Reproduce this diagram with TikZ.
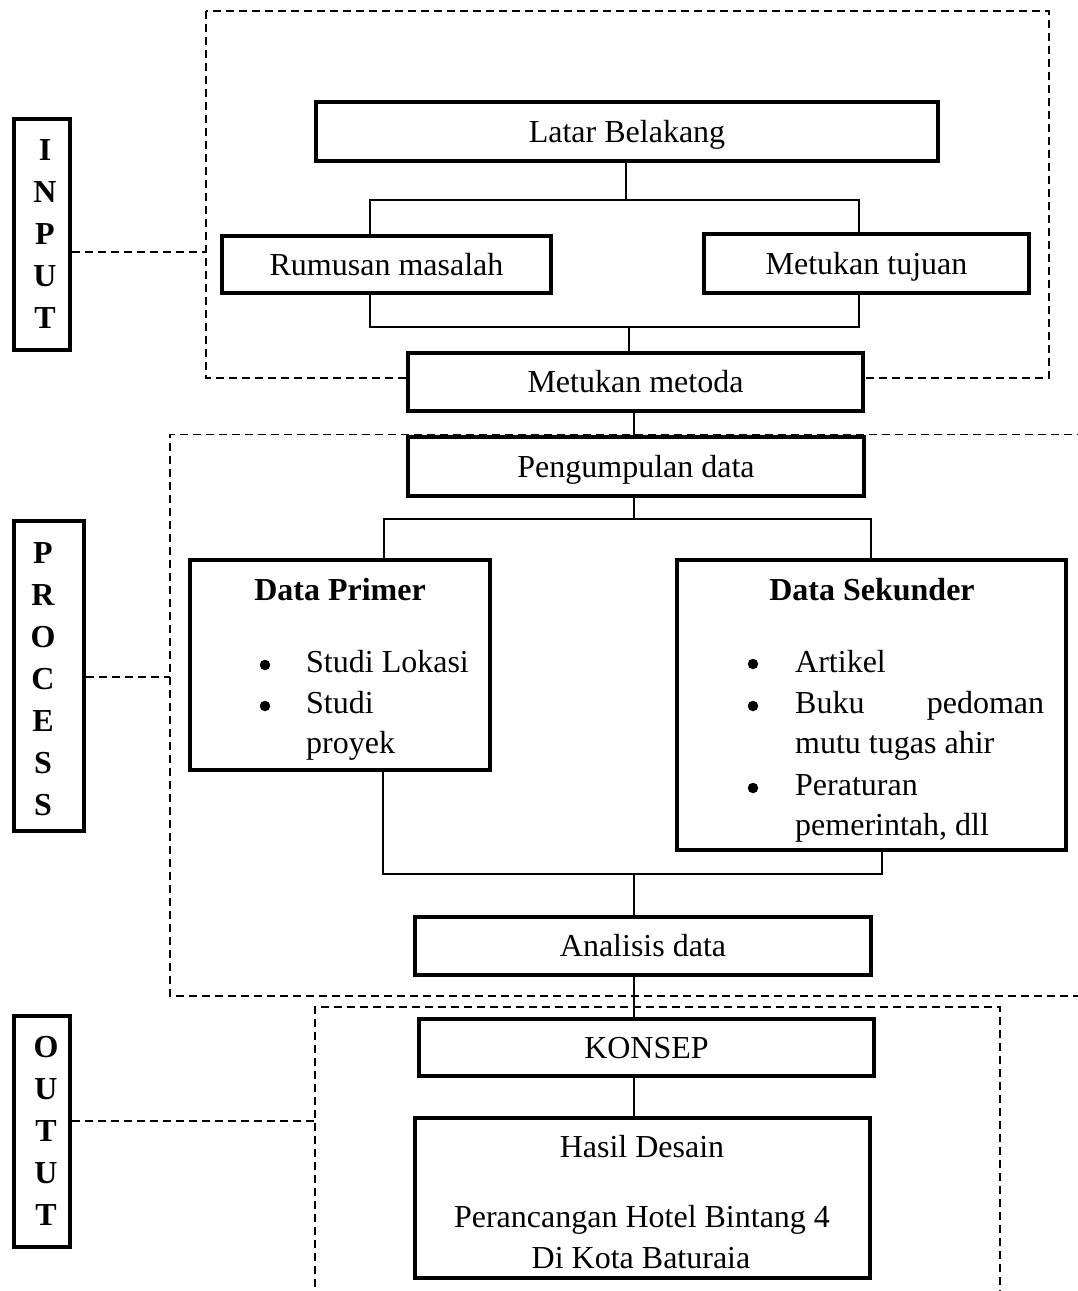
\documentclass[tikz,border=0pt]{standalone}
\usepackage{fontspec}
\setmainfont{Liberation Serif}
\usetikzlibrary{calc}
\begin{document}
\begin{tikzpicture}[x=1pt,y=-1pt, font=\fontsize{32}{41}\selectfont,
 box/.style={draw, line width=3.9pt, fill=white, inner sep=0pt, text height=21pt, text depth=0pt},
 conn/.style={line width=1.2pt},
 dsh/.style={line width=1.4pt, dash pattern=on 8pt off 5pt},
 txt/.style={inner sep=0pt},
 bul/.style={circle, fill=black, inner sep=0pt, minimum size=10.5pt},
 lbl/.style={inner sep=0pt, align=center, font=\fontsize{32}{42}\selectfont\bfseries}]
\useasboundingbox (0,0) rectangle (1078,1291);
\clip (0,0) rectangle (1078,1291);
% dashed frames
\draw[dsh] (206,11) rectangle (1049,378);
\draw[dsh] (1085,434.5) -- (170,434.5) -- (170,996) -- (1085,996);
\draw[dsh] (315,1300) -- (315,1007) -- (1000,1007) -- (1000,1300);
% main boxes
\node[box, minimum width=622, minimum height=59] (lat) at (627,131.5) {Latar Belakang};
\node[box, minimum width=329, minimum height=57] (rum) at (386.5,264.5) {Rumusan masalah};
\node[box, minimum width=325, minimum height=59] (tuj) at (866.5,263.5) {Metukan tujuan};
\node[box, minimum width=455, minimum height=58] (met) at (635.5,382) {Metukan metoda};
\node[box, minimum width=456, minimum height=59] (pen) at (636,466.5) {Pengumpulan data};
\node[box, minimum width=300, minimum height=210] (dp) at (340,665) {};
\node[box, minimum width=389, minimum height=290] (ds) at (871.5,705) {};
\node[box, minimum width=456, minimum height=58] (ana) at (643,946) {Analisis data};
\node[box, minimum width=455, minimum height=57] (kon) at (646.5,1047.5) {KONSEP};
\node[box, minimum width=455, minimum height=160] (has) at (642.5,1198) {};
% side labels
\node[box, minimum width=56, minimum height=231] (inl) at (42,234.5) {};
\node[lbl] (inlt) at (45,234.5) {I\\N\\P\\U\\T};
\node[box, minimum width=70, minimum height=310] (prl) at (49,676) {};
\node[lbl] (prlt) at (43,679) {P\\R\\O\\C\\E\\S\\S};
\node[box, minimum width=56, minimum height=231] (oul) at (42,1131.5) {};
\node[lbl] (oult) at (46,1130.5) {O\\U\\T\\U\\T};
% Data Primer text
\node[txt, anchor=base] (dpt) at (340,600) {\bfseries Data Primer};
\node[bul] (dpb1) at (265,665) {};
\node[txt, anchor=base west] (dpi1) at (306,672) {Studi Lokasi};
\node[bul] (dpb2) at (265,706) {};
\node[txt, anchor=base west] (dpi2) at (306,713) {Studi};
\node[txt, anchor=base west] (dpi3) at (306,753) {proyek};
% Data Sekunder text
\node[txt, anchor=base] (dst) at (872,600) {\bfseries Data Sekunder};
\node[bul] (dsb1) at (753,664) {};
\node[txt, anchor=base west] (dsi1) at (795,672) {Artikel};
\node[bul] (dsb2) at (753,706) {};
\node[txt, anchor=base west] (dsi2) at (795,713) {\makebox[249pt][l]{Buku\hfill pedoman}};
\node[txt, anchor=base west] (dsi3) at (795,753) {mutu tugas ahir};
\node[bul] (dsb3) at (753,788) {};
\node[txt, anchor=base west] (dsi4) at (795,795) {Peraturan};
\node[txt, anchor=base west] (dsi5) at (795,835) {pemerintah, dll};
% Hasil text
\node[txt, anchor=base] (has1) at (642,1157) {Hasil Desain};
\node[txt, anchor=base] (has2) at (642,1227) {Perancangan Hotel Bintang 4};
\node[txt, anchor=base] (has3) at (641,1268) {Di Kota Baturaia};
% connectors
\coordinate (j1) at (626,200);
\coordinate (c1) at (370,200);
\coordinate (c2) at (859,200);
\draw[conn] (lat.south -| j1) -- (j1);
\draw[conn] (rum.north -| c1) -- (c1) -- (c2) -- (tuj.north -| c2);
\coordinate (c3) at (370,327);
\coordinate (c4) at (859,327);
\coordinate (j2) at (629,327);
\draw[conn] (rum.south -| c3) -- (c3) -- (c4) -- (tuj.south -| c4);
\draw[conn] (j2) -- (met.north -| j2);
\coordinate (j3) at (634,420);
\draw[conn] (met.south -| j3) -- (pen.north -| j3);
\coordinate (c5) at (384,519);
\coordinate (c6) at (871,519);
\coordinate (j4) at (634,519);
\draw[conn] (pen.south -| j4) -- (j4);
\draw[conn] (dp.north -| c5) -- (c5) -- (c6) -- (ds.north -| c6);
\coordinate (c7) at (383,874);
\coordinate (c8) at (882,874);
\coordinate (j5) at (634,874);
\draw[conn] (dp.south -| c7) -- (c7) -- (c8) -- (ds.south -| c8);
\draw[conn] (j5) -- (ana.north -| j5);
\draw[conn] (ana.south -| j5) -- (kon.north -| j5);
\draw[conn] (kon.south -| j5) -- (has.north -| j5);
% label connectors
\coordinate (d1) at (206,252);
\draw[dsh] (inl.east |- d1) -- (d1);
\coordinate (d2) at (170,677);
\draw[dsh] (prl.east |- d2) -- (d2);
\coordinate (d3) at (315,1121);
\draw[dsh] (oul.east |- d3) -- (d3);
\end{tikzpicture}
\end{document}
